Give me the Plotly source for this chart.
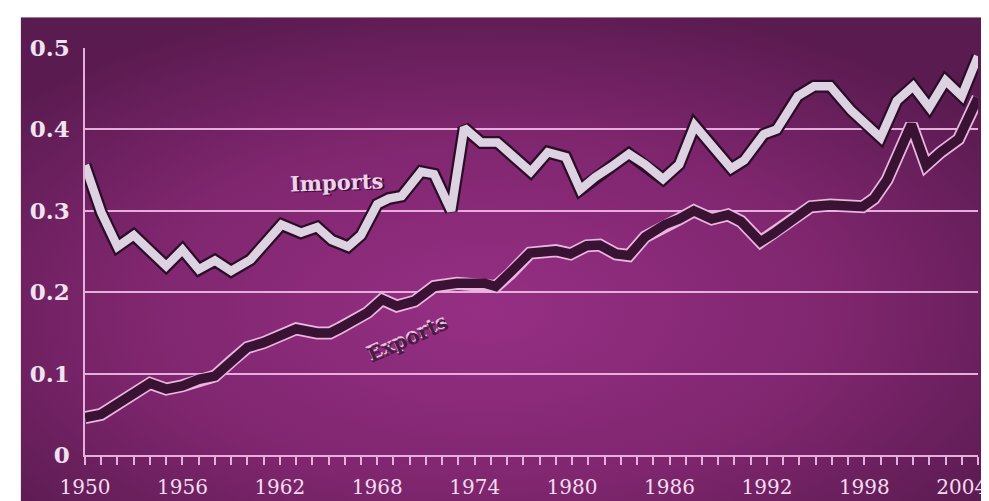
import base64
import plotly.graph_objects as go

# ---- data ----
imports_year = [1950, 1951, 1952, 1953, 1955, 1956, 1957, 1958, 1959, 1960.2,
                1962.1, 1963.3, 1964.3, 1965.2, 1966.2, 1967, 1968, 1968.7, 1969.5, 1970.7,
                1971.5, 1972.55, 1973.35, 1974.4, 1975.4, 1976.4, 1977.45, 1978.5, 1979.6, 1980.5,
                1981.4, 1982.4, 1983.5, 1984.5, 1985.6, 1986.6, 1987.55, 1989.8, 1990.6, 1991.8,
                1992.6, 1993.9, 1994.9, 1995.9, 1997.2, 1999, 2000, 2001, 2002, 2003,
                2004, 2005]
imports_value = [0.356, 0.298, 0.256, 0.270, 0.232, 0.252, 0.228, 0.239, 0.226, 0.240,
                 0.283, 0.273, 0.280, 0.264, 0.256, 0.270, 0.308, 0.315, 0.318, 0.348,
                 0.345, 0.300, 0.402, 0.384, 0.384, 0.368, 0.348, 0.372, 0.366, 0.326,
                 0.341, 0.354, 0.370, 0.357, 0.339, 0.357, 0.405, 0.352, 0.362, 0.394,
                 0.400, 0.441, 0.453, 0.453, 0.423, 0.390, 0.435, 0.453, 0.427, 0.460,
                 0.441, 0.490]

exports_year = [1950, 1951, 1954, 1955, 1956, 1957, 1958, 1959, 1960, 1961,
                1963, 1964.3, 1965.1, 1965.7, 1966.8, 1967.4, 1968.3, 1969.2, 1970.3, 1971.5,
                1972.9, 1974.6, 1975.3, 1976.2, 1977.4, 1979, 1979.9, 1980.9, 1981.7, 1982.7,
                1983.5, 1984.5, 1985.7, 1986.6, 1987.5, 1988.6, 1989.6, 1990.4, 1991.6, 1992.4,
                1993.5, 1994.7, 1995.9, 1997.9, 1998.6, 1999.4, 2000.9, 2001.8, 2002.7, 2003.8,
                2005]
exports_value = [0.046, 0.050, 0.088, 0.081, 0.085, 0.093, 0.097, 0.115, 0.132, 0.138,
                 0.155, 0.150, 0.150, 0.156, 0.168, 0.175, 0.191, 0.183, 0.189, 0.207,
                 0.211, 0.211, 0.207, 0.223, 0.248, 0.251, 0.247, 0.257, 0.258, 0.247,
                 0.245, 0.268, 0.283, 0.290, 0.300, 0.290, 0.295, 0.287, 0.262, 0.272,
                 0.287, 0.305, 0.307, 0.305, 0.315, 0.338, 0.406, 0.356, 0.372, 0.388,
                 0.439]

x_tick_years = [1950, 1956, 1962, 1968, 1974, 1980, 1986, 1992, 1998, 2004]
x_tick_labels = ["1950", "1956", "1962", "1968", "1974", "1980", "1986", "1992", "1998", "2004"]
y_tick_vals = [0, 0.1, 0.2, 0.3, 0.4, 0.5]
y_tick_labels = ["0", "0.1", "0.2", "0.3", "0.4", "0.5"]

# ---- background gradient as an svg image ----
svg = """<svg xmlns='http://www.w3.org/2000/svg' width='977' height='492' viewBox='0 0 977 492' preserveAspectRatio='none'>
<defs><radialGradient id='g' cx='0.48' cy='0.6' r='0.65' fx='0.48' fy='0.6'>
<stop offset='0' stop-color='#962f84'/>
<stop offset='0.55' stop-color='#80266f'/>
<stop offset='1' stop-color='#5a1b50'/>
</radialGradient></defs>
<rect x='0' y='0' width='977' height='492' fill='url(#g)'/>
</svg>"""
bg_uri = "data:image/svg+xml;base64," + base64.b64encode(svg.encode()).decode()

W, H = 989, 501
ML, MR, MT, MB = 77, 10, 40, 51
PW, PH = W - ML - MR, H - MT - MB

def px_to_paper_x(px):
    return (px - ML) / PW

def px_to_paper_y(py):
    return (H - MB - py) / PH

fig = go.Figure()

# Imports: light band with dark edge
fig.add_trace(go.Scatter(x=imports_year, y=imports_value, mode="lines",
                         line=dict(color="#2c0d28", width=13), hoverinfo="skip", showlegend=False))
fig.add_trace(go.Scatter(x=imports_year, y=imports_value, mode="lines",
                         line=dict(color="#ddd2e2", width=8.5), name="Imports", showlegend=False))
# Exports: dark band with light edge
fig.add_trace(go.Scatter(x=exports_year, y=exports_value, mode="lines",
                         line=dict(color="#e9b6df", width=13), hoverinfo="skip", showlegend=False))
fig.add_trace(go.Scatter(x=exports_year, y=exports_value, mode="lines",
                         line=dict(color="#3a1234", width=9.5), name="Exports", showlegend=False))

grid_color = "#e6aedc"

fig.update_layout(
    width=W, height=H,
    margin=dict(l=ML, r=MR, t=MT, b=MB, pad=0),
    paper_bgcolor="white",
    plot_bgcolor="rgba(0,0,0,0)",
    font=dict(family="DejaVu Serif", color="#efdcec"),
    images=[dict(source=bg_uri, xref="paper", yref="paper",
                 x=px_to_paper_x(12), y=px_to_paper_y(9),
                 sizex=(W - 12) / PW, sizey=(H - 9) / PH,
                 xanchor="left", yanchor="top", sizing="stretch", layer="below")],
    xaxis=dict(range=[1950, 2005], tickmode="array", tickvals=x_tick_years, ticktext=x_tick_labels,
               showgrid=False, zeroline=False, showline=True, linecolor=grid_color, linewidth=1.5,
               ticks="outside", ticklen=8, tickwidth=1.5, tickcolor=grid_color,
               ticklabelstandoff=5, ticklabeloverflow="allow",
               minor=dict(dtick=1, tick0=1950, ticks="outside", ticklen=8, tickwidth=1.5,
                          tickcolor=grid_color, showgrid=False),
               tickfont=dict(family="DejaVu Serif", size=20, color="#f2dcef"),
               fixedrange=True),
    yaxis=dict(range=[0, 0.5], tickmode="array", tickvals=y_tick_vals, ticktext=y_tick_labels,
               showgrid=True, gridcolor=grid_color, gridwidth=1.5, zeroline=False,
               showline=True, linecolor=grid_color, linewidth=1.5, ticks="",
               ticklabelstandoff=9,
               tickfont=dict(family="DejaVu Serif", size=23, color="#f0e2ef", weight="bold"),
               fixedrange=True),
    annotations=[
        dict(x=1965.5, y=0.335, text="Imports", showarrow=False, textangle=-2,
             xshift=1.5, yshift=-1.5,
             font=dict(family="DejaVu Serif", size=21, color="#3a1035", weight="bold")),
        dict(x=1965.5, y=0.335, text="Imports", showarrow=False, textangle=-2,
             font=dict(family="DejaVu Serif", size=21, color="#ecd2ea", weight="bold")),
        dict(x=1969.9, y=0.143, text="Exports", showarrow=False, textangle=-24,
             xshift=-1.5, yshift=1.5,
             font=dict(family="DejaVu Serif", size=20, color="#e6c2e2", weight="bold")),
        dict(x=1969.9, y=0.143, text="Exports", showarrow=False, textangle=-24,
             font=dict(family="DejaVu Serif", size=20, color="#4a1b44", weight="bold")),
    ],
)

fig.write_html("out.html")
